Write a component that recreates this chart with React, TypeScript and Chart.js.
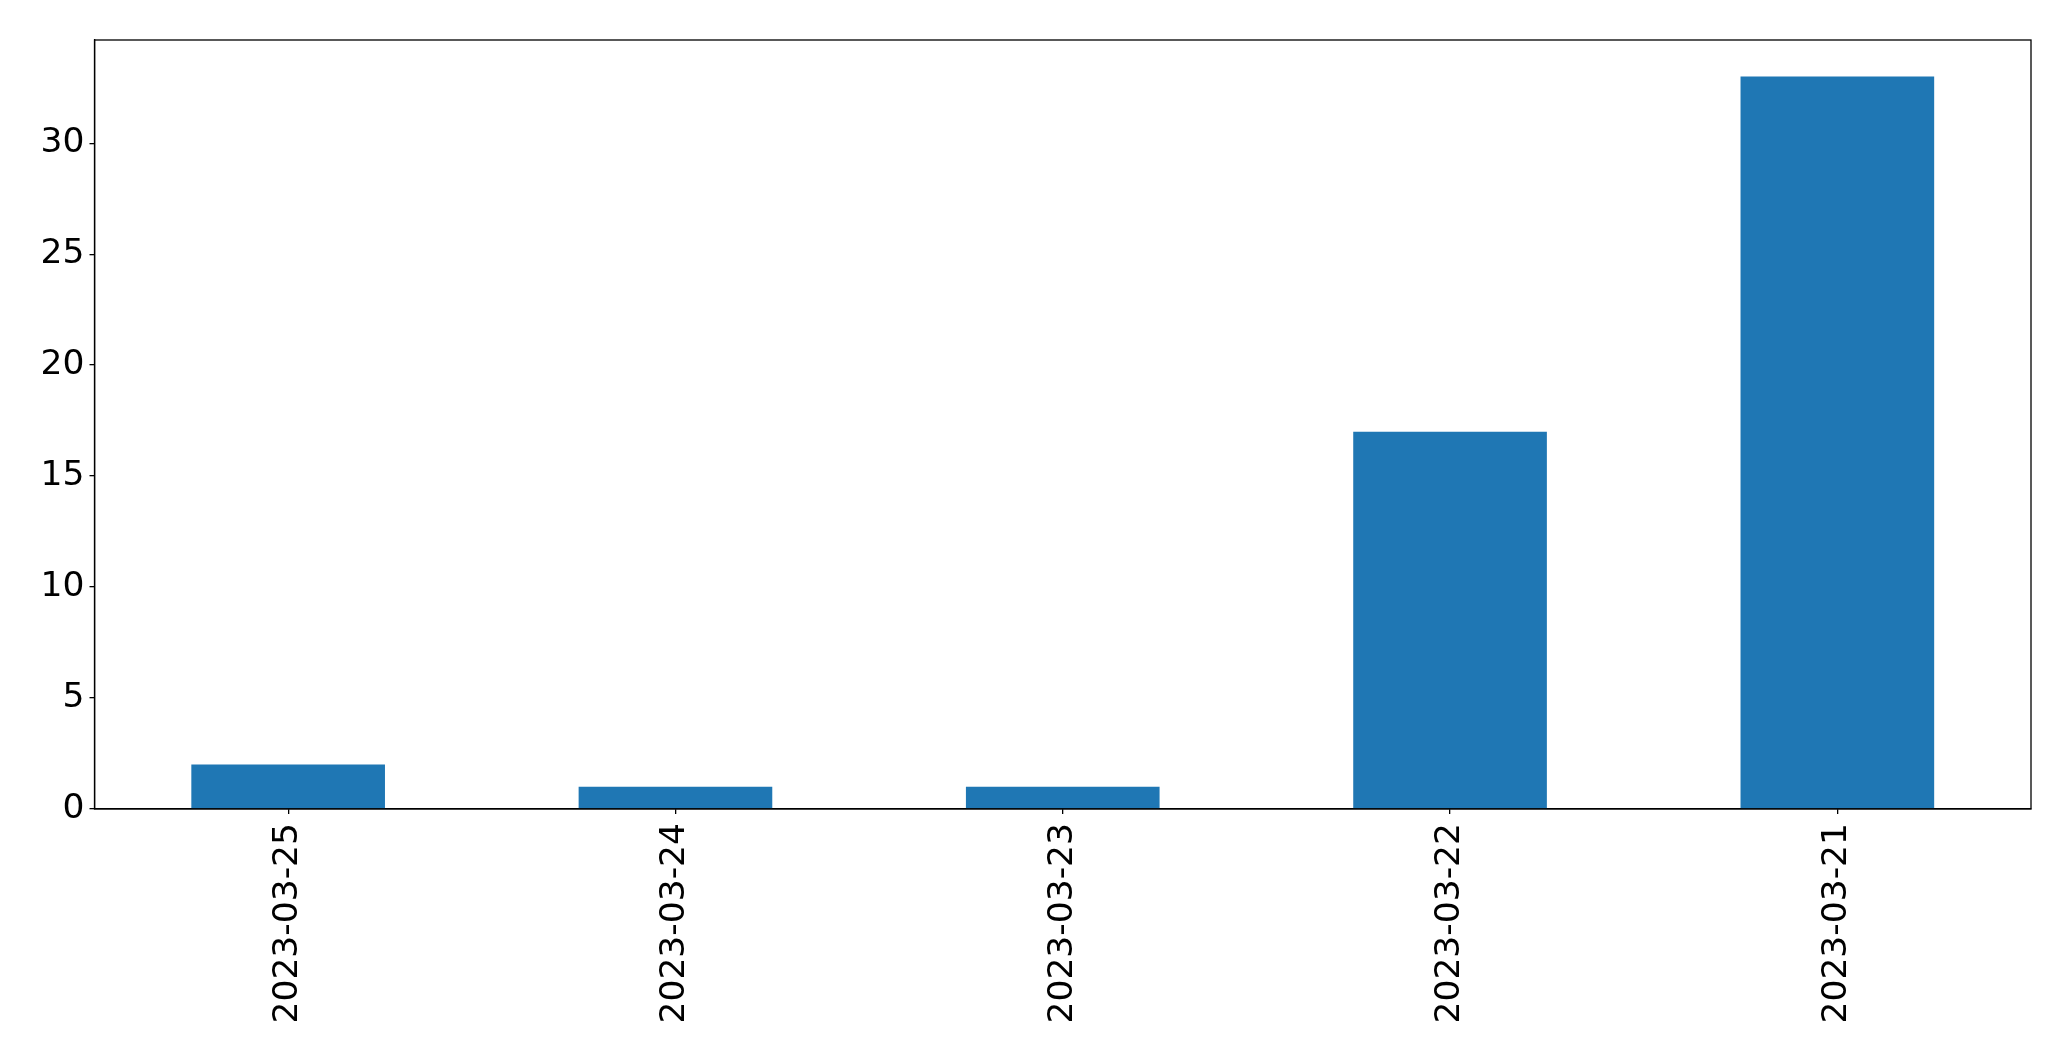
import React, { useEffect, useRef } from "react";
import { Chart, registerables } from "chart.js";

Chart.register(...registerables);

const categories = ["2023-03-25", "2023-03-24", "2023-03-23", "2023-03-22", "2023-03-21"];
const counts = [2, 1, 1, 17, 33];
const yTicks = [0, 5, 10, 15, 20, 25, 30];

const W = 2071;
const H = 1061;
const FONT = { family: "'DejaVu Sans', sans-serif", size: 34.5 };

const frame = {
  id: "frame",
  afterDatasetsDraw(chart: any) {
    const { ctx, chartArea } = chart;
    ctx.save();
    ctx.strokeStyle = "#000";
    ctx.lineWidth = 1.3;
    ctx.strokeRect(chartArea.left, chartArea.top, chartArea.right - chartArea.left, chartArea.bottom - chartArea.top);
    ctx.restore();
  },
};

export default function App() {
  const ref = useRef<HTMLCanvasElement>(null);
  useEffect(() => {
    if (!ref.current) return;
    const chart = new Chart(ref.current, {
      type: "bar",
      data: {
        labels: categories,
        datasets: [
          {
            data: counts,
            backgroundColor: "#1f77b4",
            borderWidth: 0,
            barPercentage: 0.5,
            categoryPercentage: 1,
          },
        ],
      },
      options: {
        animation: false,
        responsive: false,
        layout: { padding: { left: 0, top: 40, right: 40, bottom: 0 } },
        plugins: { legend: { display: false }, tooltip: { enabled: false } },
        scales: {
          x: {
            offset: true,
            grid: { display: true, drawOnChartArea: false, drawTicks: true, tickLength: 5, tickColor: "#000", offset: false, lineWidth: 1.3 },
            border: { display: true, color: "#000", width: 1.3 },
            ticks: { color: "#000", font: FONT, maxRotation: 90, minRotation: 90, padding: 9, autoSkip: false },
            afterFit: (s: any) => {
              s.height = H - 809;
            },
          },
          y: {
            min: 0,
            max: 34.65,
            grid: { display: true, drawOnChartArea: false, drawTicks: true, tickLength: 5, tickColor: "#000", lineWidth: 1.3 },
            border: { display: true, color: "#000", width: 1.3 },
            ticks: { color: "#000", font: FONT, padding: 5 },
            afterBuildTicks: (s: any) => {
              s.ticks = yTicks.map((v) => ({ value: v }));
            },
            afterFit: (s: any) => {
              s.width = 94.5;
            },
          },
        },
      },
      plugins: [frame],
    });
    return () => chart.destroy();
  }, []);
  return (
    <div style={{ position: "absolute", left: 0, top: 0, width: W, height: H, background: "#fff" }}>
      <canvas ref={ref} width={W} height={H} style={{ width: W, height: H, display: "block" }} />
    </div>
  );
}
